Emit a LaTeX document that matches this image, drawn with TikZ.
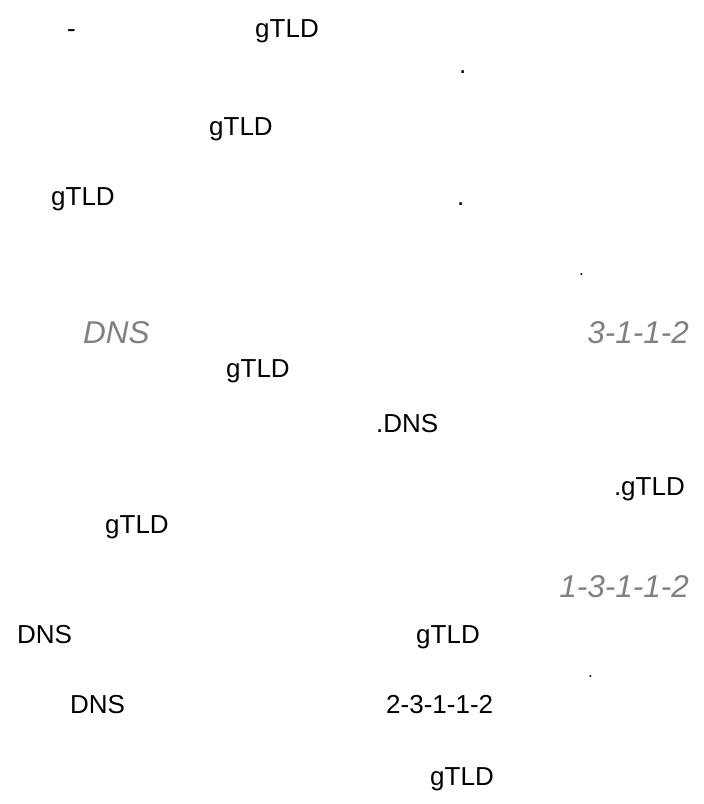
\documentclass[tikz,border=0pt]{standalone}
\usepackage{fontspec}
\setmainfont{Liberation Sans}
\definecolor{headgray}{HTML}{808080}
\tikzset{
  body/.style={font=\fontsize{26}{30}\selectfont, anchor=base west, inner sep=0pt, text=black},
  bodyr/.style={body, anchor=base east},
  head/.style={font=\fontsize{31.5}{36}\selectfont\itshape, anchor=base west, inner sep=0pt, text=headgray},
  headr/.style={head, anchor=base east},
  smalldot/.style={font=\fontsize{17}{20}\selectfont, anchor=base west, inner sep=0pt, text=black}
}
\begin{document}
\begin{tikzpicture}[x=1pt,y=-1pt]
\useasboundingbox (0,0) rectangle (704,804);
% row 1
\node[body] (h1) at (67,37) {-};
\node[body] (t1) at (255,37) {gTLD};
\node[body] (d1) at (459,73) {.};
\node[body] (t2) at (209,135) {gTLD};
\node[body] (t3) at (51,205) {gTLD};
\node[body] (d2) at (457,205) {.};
\node[smalldot] (d3) at (579,275) {.};
% heading 3-1-1-2
\node[head] (hd1) at (83,343) {DNS};
\node[headr] (hn1) at (689,343) {3-1-1-2};
\node[body] (t4) at (226,377) {gTLD};
\node[body] (dns1) at (376,432) {.DNS};
\node[bodyr] (t5) at (685,495) {.gTLD};
\node[body] (t6) at (105,533) {gTLD};
% heading 1-3-1-1-2
\node[headr] (hn2) at (689,597) {1-3-1-1-2};
\node[body] (dns2) at (17,643) {DNS};
\node[body] (t7) at (416,643) {gTLD};
\node[smalldot] (d4) at (588,677) {.};
\node[body] (dns3) at (70,713) {DNS};
\node[body] (n3) at (386,713) {2-3-1-1-2};
\node[body] (t8) at (430,785) {gTLD};
\end{tikzpicture}
\end{document}
